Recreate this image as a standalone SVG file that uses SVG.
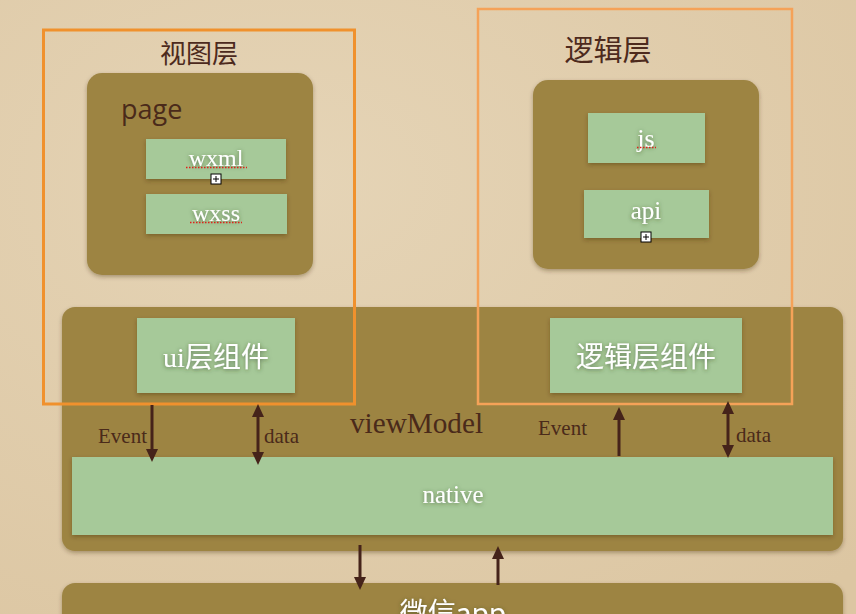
<svg xmlns="http://www.w3.org/2000/svg" width="856" height="614" viewBox="0 0 856 614">
<defs>
<radialGradient id="paper" cx="0.35" cy="0.3" r="0.9">
<stop offset="0" stop-color="#e5d4b6"/>
<stop offset="1" stop-color="#dcc6a2"/>
</radialGradient>
<filter id="sh" x="-10%" y="-10%" width="120%" height="130%">
<feDropShadow dx="0" dy="2" stdDeviation="2" flood-color="#3a2a10" flood-opacity="0.35"/>
</filter>
<filter id="tsh" x="-20%" y="-30%" width="140%" height="160%">
<feDropShadow dx="0" dy="1" stdDeviation="2" flood-color="#304020" flood-opacity="0.6"/>
</filter>
<marker id="ah" viewBox="0 0 13 12" refX="3" refY="6" markerWidth="13" markerHeight="12" markerUnits="userSpaceOnUse" orient="auto-start-reverse">
<path d="M0,0 L13,6 L0,12 z" fill="#45231a"/>
</marker>
<style>
.olive{fill:#9d8443;filter:url(#sh)}
.green{fill:#a6c999;filter:url(#sh)}
.wt{fill:#ffffff;font-family:"Liberation Serif","Noto Sans CJK SC",serif;text-anchor:middle;filter:url(#tsh)}
.cjk{fill:#ffffff;font-family:"Noto Sans CJK SC",sans-serif;text-anchor:middle;filter:url(#tsh)}
.title{fill:#4d2a1d;font-family:"Noto Sans CJK SC",sans-serif;text-anchor:middle}
.lbl{fill:#4a2a1a;font-family:"Liberation Serif",serif;font-size:21px}
.conn{stroke:#45231a;stroke-width:3;fill:none}
.spell{stroke:#e0201a;stroke-width:1.5;stroke-dasharray:1.5 1.5;fill:none}
.frameL{fill:none;stroke:#f0912d;stroke-width:3}
.frameR{fill:none;stroke:#f5a258;stroke-width:2.5}
</style>
</defs>
<rect width="856" height="614" fill="url(#paper)"/>

<g id="weixin-app">
<rect class="olive" x="62" y="583" width="781" height="60" rx="13"/>
<text class="cjk" x="453" y="623" font-size="28">微信app</text>
</g>

<g id="viewModel">
<rect class="olive" x="62" y="307" width="781" height="244" rx="13"/>
<text x="350" y="433" font-family="Liberation Serif, serif" font-size="29" fill="#4a2a1a" textLength="133" lengthAdjust="spacingAndGlyphs">viewModel</text>
</g>

<g id="ui-components">
<rect class="green" x="137" y="318" width="158" height="75"/>
<text class="wt" x="216" y="367" font-size="28">ui层组件</text>
</g>

<g id="logic-components">
<rect class="green" x="550" y="318" width="192" height="75"/>
<text class="cjk" x="646" y="367" font-size="28">逻辑层组件</text>
</g>

<g id="native">
<rect class="green" x="72" y="457" width="761" height="78"/>
<text class="wt" x="453" y="503" font-size="25">native</text>
</g>

<g id="view-layer">
<text class="title" x="199" y="63" font-size="26">视图层</text>
<g id="page">
<rect class="olive" x="87" y="73" width="226" height="202" rx="15"/>
<text x="121" y="119" font-family="Open Sans, sans-serif" font-size="27" fill="#4a2a1a">page</text>
</g>
<g id="wxml">
<rect class="green" x="146" y="139" width="140" height="40"/>
<text class="wt" x="216" y="166" font-size="24">wxml</text>
<line class="spell" x1="186" y1="167.5" x2="247" y2="167.5"/>
<rect x="211" y="174" width="10" height="10" fill="#fff" stroke="#000" stroke-width="1"/>
<path d="M213,179 H219 M216,176 V182" stroke="#000" stroke-width="1"/>
</g>
<g id="wxss">
<rect class="green" x="146" y="194" width="141" height="40"/>
<text class="wt" x="216" y="221" font-size="24">wxss</text>
<line class="spell" x1="190" y1="222.5" x2="242" y2="222.5"/>
</g>
<rect id="view-frame" class="frameL" x="43.5" y="30" width="311" height="374"/>
</g>

<g id="logic-layer">
<text class="title" x="608" y="61" font-size="29">逻辑层</text>
<g id="logic-box">
<rect class="olive" x="533" y="80" width="226" height="189" rx="15"/>
</g>
<g id="js">
<rect class="green" x="588" y="113" width="117" height="50"/>
<text class="wt" x="646" y="147" font-size="26">js</text>
<line class="spell" x1="637" y1="147.5" x2="656" y2="147.5"/>
</g>
<g id="api">
<rect class="green" x="584" y="190" width="125" height="48"/>
<text class="wt" x="646" y="219" font-size="25">api</text>
<rect x="641" y="232" width="10" height="10" fill="#fff" stroke="#000" stroke-width="1"/>
<path d="M643,237 H649 M646,234 V240" stroke="#000" stroke-width="1"/>
</g>
<rect id="logic-frame" class="frameR" x="478" y="9" width="314" height="395"/>
</g>

<g id="connectors">
<line class="conn" x1="152" y1="405" x2="152" y2="452" marker-end="url(#ah)"/>
<line class="conn" x1="258" y1="414" x2="258" y2="455" marker-start="url(#ah)" marker-end="url(#ah)"/>
<line class="conn" x1="619" y1="456" x2="619" y2="417" marker-end="url(#ah)"/>
<line class="conn" x1="728" y1="411" x2="728" y2="448" marker-start="url(#ah)" marker-end="url(#ah)"/>
<line class="conn" x1="360" y1="545" x2="360" y2="580" marker-end="url(#ah)"/>
<line class="conn" x1="498" y1="585" x2="498" y2="556" marker-end="url(#ah)"/>
<text class="lbl" x="98" y="443">Event</text>
<text class="lbl" x="264" y="443">data</text>
<text class="lbl" x="538" y="435">Event</text>
<text class="lbl" x="736" y="442">data</text>
</g>
</svg>
